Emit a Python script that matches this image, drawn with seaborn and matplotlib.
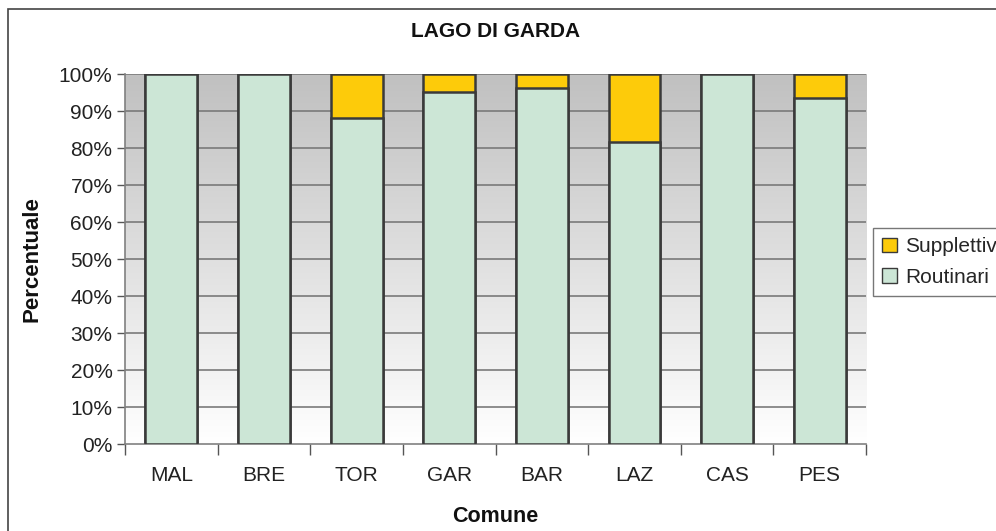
import matplotlib.pyplot as plt
import matplotlib.patches as mpatches
from matplotlib.colors import LinearSegmentedColormap
import numpy as np
import pandas as pd
import seaborn as sns

# data
comuni = ["MAL", "BRE", "TOR", "GAR", "BAR", "LAZ", "CAS", "PES"]
routinari = [100, 100, 88.1, 95.1, 96.2, 81.6, 100, 93.5]
supplettivi = [0, 0, 11.9, 4.9, 3.8, 18.4, 0, 6.5]

df = pd.DataFrame({"Comune": comuni, "Routinari": routinari, "Supplettivi": supplettivi})
df["Totale"] = df["Routinari"] + df["Supplettivi"]

sns.set_style("white")
plt.rcParams["font.family"] = ["Liberation Sans", "DejaVu Sans"]

green = "#cce6d6"
yellow = "#fdcb0a"
edge = "#3a3a3a"

fig = plt.figure(figsize=(9.96, 5.31), dpi=100)
ax = fig.add_axes([0.1255, 0.1638, 0.7440, 0.6968])

# gray-to-white gradient background
cmap = LinearSegmentedColormap.from_list("g", ["#ffffff", "#c0c0c0"])
ax.imshow(np.linspace(1, 0, 256).reshape(-1, 1), extent=[-0.5, 7.5, 0, 100], aspect="auto",
          cmap=cmap, origin="upper", zorder=0, interpolation="bicubic")

for v in range(10, 101, 10):
    ax.axhline(v, color="#7a7a7a", lw=1.2, zorder=1)

sns.barplot(data=df, x="Comune", y="Totale", color=yellow, width=0.56,
            edgecolor=edge, linewidth=1.8, saturation=1, ax=ax, zorder=2)
sns.barplot(data=df, x="Comune", y="Routinari", color=green, width=0.56,
            edgecolor=edge, linewidth=1.8, saturation=1, ax=ax, zorder=3)

ax.set_xlim(-0.5, 7.5)
ax.set_ylim(0, 100)
ax.set_yticks(range(0, 101, 10))
ax.set_yticklabels([f"{v}%" for v in range(0, 101, 10)], fontsize=15, color="#222222")
ax.tick_params(axis="y", length=6, width=1, color="#555555", direction="out", left=True, pad=3)
ax.set_xticks(range(len(comuni)))
ax.set_xticklabels(comuni, fontsize=15, color="#222222")
ax.set_xticks(np.arange(-0.5, 8, 1), minor=True)
ax.tick_params(axis="x", which="major", length=0, pad=16)
ax.tick_params(axis="x", which="minor", length=8, width=1, color="#555555", direction="out", bottom=True)

for s in ["top", "right"]:
    ax.spines[s].set_visible(False)
for s in ["left", "bottom"]:
    ax.spines[s].set_color("#808080")
    ax.spines[s].set_linewidth(1.2)

ax.set_title("LAGO DI GARDA", fontsize=15, fontweight="bold", pad=27, color="#111111")
ax.set_xlabel("Comune", fontsize=15.5, fontweight="bold", labelpad=15, color="#111111")
ax.set_ylabel("Percentuale", fontsize=16, fontweight="bold", labelpad=12, color="#111111")

handles = [mpatches.Patch(facecolor=yellow, edgecolor=edge, label="Supplettiv"),
           mpatches.Patch(facecolor=green, edgecolor=edge, label="Routinari")]
fig.legend(handles=handles, loc="upper left", bbox_to_anchor=(0.8765, 0.5706), fontsize=15,
           frameon=True, fancybox=False, edgecolor="#555555", handlelength=0.7, handleheight=0.7,
           labelspacing=0.55, borderpad=0.45, handletextpad=0.4, borderaxespad=0)

fig.patches.append(mpatches.Rectangle((0.008, -0.1), 1.2, 1.083, transform=fig.transFigure,
                                      fill=False, edgecolor="#444444", lw=1.2))

fig.savefig("out.png", dpi=100)
